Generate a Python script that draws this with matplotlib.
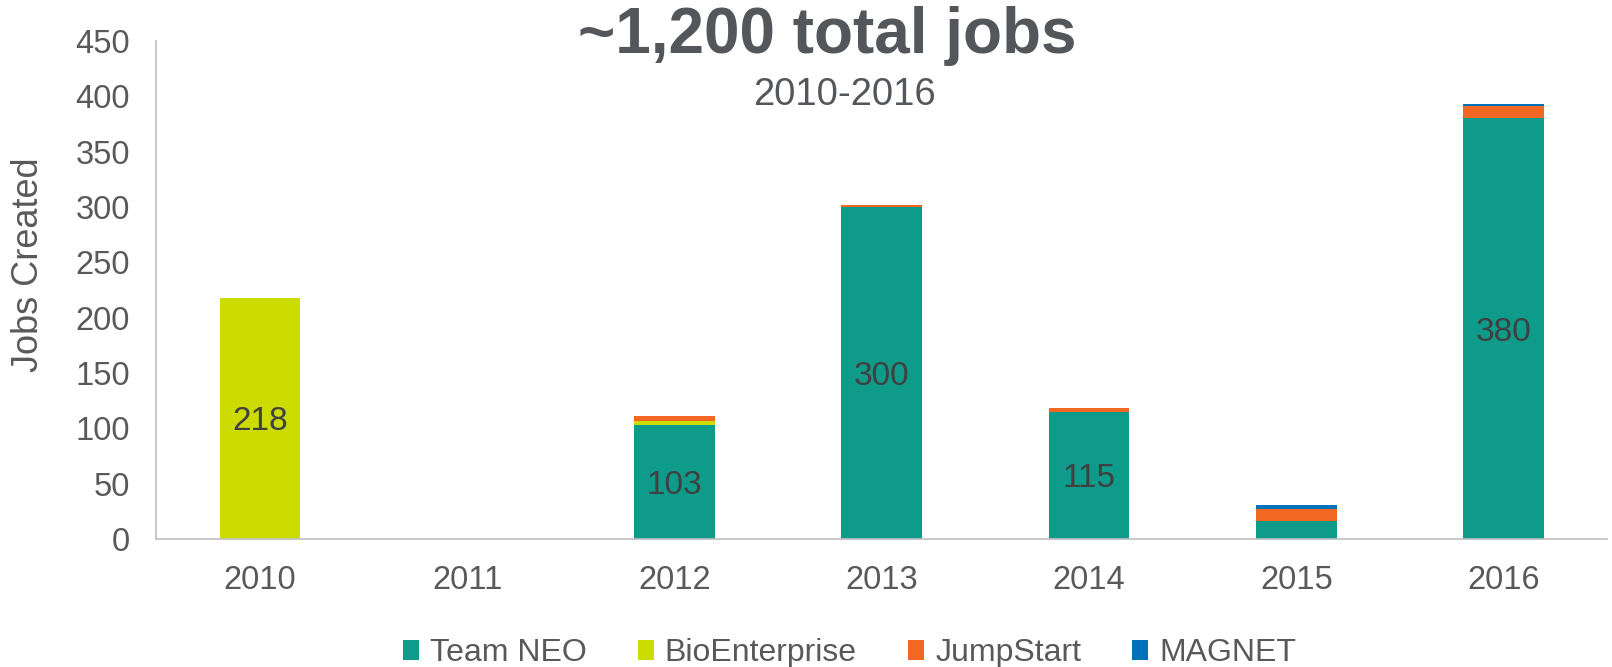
import numpy as np
from matplotlib import pyplot as plt

plt.rcParams['font.family'] = ['Liberation Sans', 'DejaVu Sans']

years = ['2010', '2011', '2012', '2013', '2014', '2015', '2016']
team_neo = [0, 0, 103, 300, 115, 16, 380]
bio_ent = [218, 0, 4, 0, 0, 0, 0]
jumpstart = [0, 0, 4, 1.5, 3, 11, 11]
magnet = [0, 0, 0, 0, 0, 3.5, 2.5]

series = [('Team NEO', team_neo, '#0F9B8A'),
          ('BioEnterprise', bio_ent, '#CCDC00'),
          ('JumpStart', jumpstart, '#F26722'),
          ('MAGNET', magnet, '#0072BC')]

tick_col = '#595959'
label_col = '#404040'

fig = plt.figure(figsize=(16.12, 6.67), dpi=100)
ax = fig.add_axes([0.097, 0.192, 0.9, 0.7465])

x = np.arange(len(years))
bottom = np.zeros(len(years))
for name, vals, col in series:
    vals = np.array(vals, dtype=float)
    ax.bar(x, vals, 0.39, bottom=bottom, color=col, label=name)
    bottom += vals

# value labels inside the big segments
for i in range(len(years)):
    if team_neo[i] >= 100:
        ax.text(x[i], team_neo[i] / 2 - 3, str(team_neo[i]), ha='center', va='center',
                fontsize=24, color=label_col)
    if bio_ent[i] >= 100:
        ax.text(x[i], team_neo[i] + bio_ent[i] / 2 - 3, str(bio_ent[i]), ha='center',
                va='center', fontsize=24, color=label_col)

ax.set_xlim(-0.5, len(years) - 0.5)
ax.set_ylim(0, 450)
ax.set_yticks(range(0, 451, 50))
ax.set_xticks(x)
ax.set_xticklabels(years)
ax.tick_params(length=0, labelsize=23.5, colors=tick_col)
ax.tick_params(axis='x', pad=19)
ax.tick_params(axis='y', pad=19)
for s in ['top', 'right']:
    ax.spines[s].set_visible(False)
for s in ['left', 'bottom']:
    ax.spines[s].set_color('#BFBFBF')
    ax.spines[s].set_linewidth(1.2)
ax.set_ylabel('Jobs Created', fontsize=26, color=tick_col)
ax.yaxis.set_label_coords(-0.076, 0.55)

fig.text(0.513, 0.946, '~1,200 total jobs', ha='center', va='center',
         fontsize=46, fontweight='bold', color='#53565A')
fig.text(0.524, 0.858, '2010-2016', ha='center', va='center',
         fontsize=27.5, color='#53565A')

leg = fig.legend(loc='lower center', bbox_to_anchor=(0.527, -0.045), ncol=4,
                 frameon=False, fontsize=23, handlelength=0.5, handleheight=0.6,
                 handletextpad=0.35, columnspacing=1.6)
for t in leg.get_texts():
    t.set_color(tick_col)

fig.savefig('out.png', dpi=100)
